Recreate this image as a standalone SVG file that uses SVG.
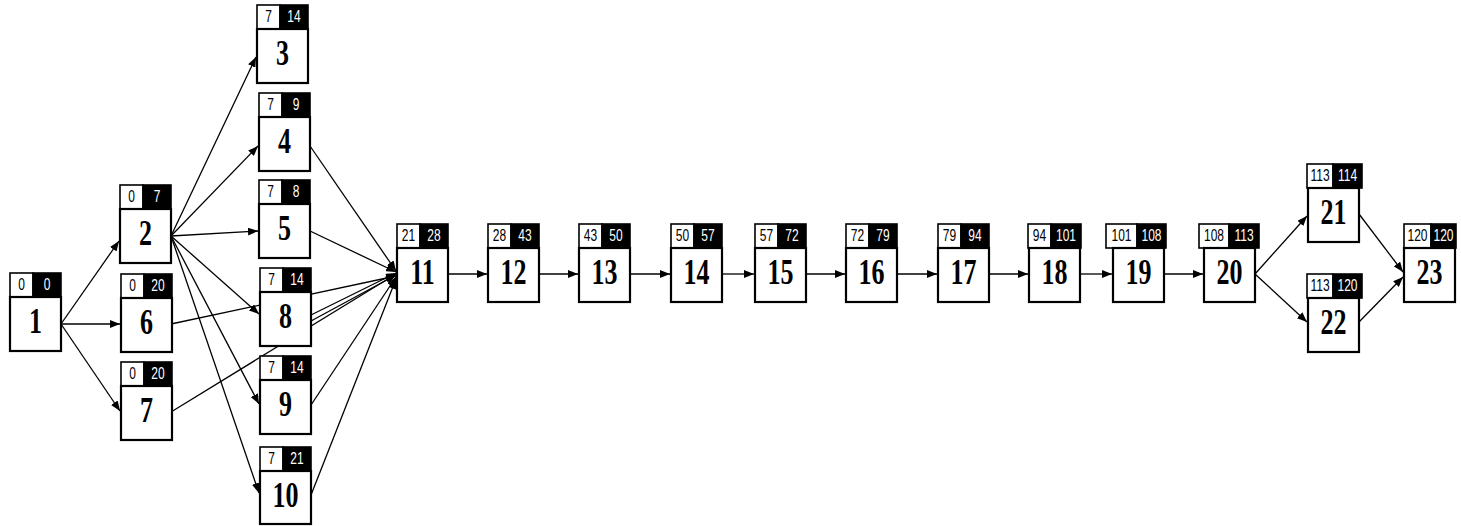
<svg xmlns="http://www.w3.org/2000/svg" width="1461" height="526" viewBox="0 0 1461 526">
<style>
.bg{fill:#fff}
.box{fill:#fff;stroke:#000;stroke-width:2.2}
.hw{fill:#fff;stroke:#000;stroke-width:1.6}
.hb{fill:#000;stroke:#000;stroke-width:1.6}
.hd{font-family:"Liberation Sans",Arial,sans-serif;font-size:12px;text-anchor:middle}
.hdw{fill:#fff}
.hdk{fill:#000}
.num{font-family:"Liberation Serif","Times New Roman",serif;font-weight:bold;font-size:26px;text-anchor:middle;fill:#000}
.c{fill:none;stroke:#000;stroke-width:1.3;marker-end:url(#ah)}
</style>
<defs>
<marker id="ah" markerWidth="10" markerHeight="8" refX="10" refY="4" orient="auto" markerUnits="userSpaceOnUse"><path d="M0,0 L10,4 L0,8 z" fill="#000"/></marker>
</defs>
<rect class="bg" x="0" y="0" width="1461" height="526"/>
<g id="connectors">
<path class="c" d="M61,324 L119,241"/>
<path class="c" d="M61,324 L120,324"/>
<path class="c" d="M61,324 L120,411"/>
<path class="c" d="M171,236 L256,57"/>
<path class="c" d="M171,236 L258,146"/>
<path class="c" d="M171,236 L258,231"/>
<path class="c" d="M171,236 L259,314"/>
<path class="c" d="M171,236 L259,404"/>
<path class="c" d="M171,236 L259,493"/>
<path class="c" d="M310,146 L396,271"/>
<path class="c" d="M310,231 L396,272"/>
<path class="c" d="M171,324 L396,276"/>
<path class="c" d="M171,412 L396,274"/>
<path class="c" d="M311,315 L396,273"/>
<path class="c" d="M311,321 L396,275"/>
<path class="c" d="M311,405 L396,277"/>
<path class="c" d="M311,495 L396,279"/>
<path class="c" d="M448,274 L487,274"/>
<path class="c" d="M539,274 L578,274"/>
<path class="c" d="M630,274 L670,274"/>
<path class="c" d="M722,274 L754,274"/>
<path class="c" d="M806,274 L845,274"/>
<path class="c" d="M897,274 L937,274"/>
<path class="c" d="M989,274 L1028,274"/>
<path class="c" d="M1080,274 L1112,274"/>
<path class="c" d="M1164,274 L1203,274"/>
<path class="c" d="M1255,274 L1307,216"/>
<path class="c" d="M1255,274 L1307,322"/>
<path class="c" d="M1359,214 L1403,272"/>
<path class="c" d="M1359,322 L1403,277"/>
</g>
<g id="n1"><rect class="hw" x="10" y="273" width="23" height="24"/><rect class="hb" x="33" y="273" width="28" height="24"/><text class="hd hdk" transform="translate(21.5,290) scale(1,1.4)">0</text><text class="hd hdw" transform="translate(47,290) scale(1,1.4)">0</text><rect class="box" x="10" y="297" width="51" height="54"/><text class="num" transform="translate(35.5,333) scale(1,1.4)">1</text></g>
<g id="n2"><rect class="hw" x="120" y="185" width="23" height="24"/><rect class="hb" x="143" y="185" width="28" height="24"/><text class="hd hdk" transform="translate(131.5,202) scale(1,1.4)">0</text><text class="hd hdw" transform="translate(157,202) scale(1,1.4)">7</text><rect class="box" x="120" y="209" width="51" height="54"/><text class="num" transform="translate(145.5,245) scale(1,1.4)">2</text></g>
<g id="n3"><rect class="hw" x="257" y="5" width="23" height="24"/><rect class="hb" x="280" y="5" width="28" height="24"/><text class="hd hdk" transform="translate(268.5,22) scale(1,1.4)">7</text><text class="hd hdw" transform="translate(294,22) scale(1,1.4)">14</text><rect class="box" x="257" y="29" width="51" height="54"/><text class="num" transform="translate(282.5,65) scale(1,1.4)">3</text></g>
<g id="n4"><rect class="hw" x="259" y="93" width="23" height="24"/><rect class="hb" x="282" y="93" width="28" height="24"/><text class="hd hdk" transform="translate(270.5,110) scale(1,1.4)">7</text><text class="hd hdw" transform="translate(296,110) scale(1,1.4)">9</text><rect class="box" x="259" y="117" width="51" height="54"/><text class="num" transform="translate(284.5,153) scale(1,1.4)">4</text></g>
<g id="n5"><rect class="hw" x="259" y="180" width="23" height="24"/><rect class="hb" x="282" y="180" width="28" height="24"/><text class="hd hdk" transform="translate(270.5,197) scale(1,1.4)">7</text><text class="hd hdw" transform="translate(296,197) scale(1,1.4)">8</text><rect class="box" x="259" y="204" width="51" height="54"/><text class="num" transform="translate(284.5,240) scale(1,1.4)">5</text></g>
<g id="n6"><rect class="hw" x="121" y="274" width="23" height="24"/><rect class="hb" x="144" y="274" width="28" height="24"/><text class="hd hdk" transform="translate(132.5,291) scale(1,1.4)">0</text><text class="hd hdw" transform="translate(158,291) scale(1,1.4)">20</text><rect class="box" x="121" y="298" width="51" height="54"/><text class="num" transform="translate(146.5,334) scale(1,1.4)">6</text></g>
<g id="n7"><rect class="hw" x="121" y="362" width="23" height="24"/><rect class="hb" x="144" y="362" width="28" height="24"/><text class="hd hdk" transform="translate(132.5,379) scale(1,1.4)">0</text><text class="hd hdw" transform="translate(158,379) scale(1,1.4)">20</text><rect class="box" x="121" y="386" width="51" height="54"/><text class="num" transform="translate(146.5,422) scale(1,1.4)">7</text></g>
<g id="n8"><rect class="hw" x="260" y="268" width="23" height="24"/><rect class="hb" x="283" y="268" width="28" height="24"/><text class="hd hdk" transform="translate(271.5,285) scale(1,1.4)">7</text><text class="hd hdw" transform="translate(297,285) scale(1,1.4)">14</text><rect class="box" x="260" y="292" width="51" height="54"/><text class="num" transform="translate(285.5,328) scale(1,1.4)">8</text></g>
<g id="n9"><rect class="hw" x="260" y="356" width="23" height="24"/><rect class="hb" x="283" y="356" width="28" height="24"/><text class="hd hdk" transform="translate(271.5,373) scale(1,1.4)">7</text><text class="hd hdw" transform="translate(297,373) scale(1,1.4)">14</text><rect class="box" x="260" y="380" width="51" height="54"/><text class="num" transform="translate(285.5,416) scale(1,1.4)">9</text></g>
<g id="n10"><rect class="hw" x="260" y="447" width="23" height="24"/><rect class="hb" x="283" y="447" width="28" height="24"/><text class="hd hdk" transform="translate(271.5,464) scale(1,1.4)">7</text><text class="hd hdw" transform="translate(297,464) scale(1,1.4)">21</text><rect class="box" x="260" y="471" width="51" height="53"/><text class="num" transform="translate(285.5,507) scale(1,1.4)">10</text></g>
<g id="n11"><rect class="hw" x="397" y="224" width="23" height="24"/><rect class="hb" x="420" y="224" width="28" height="24"/><text class="hd hdk" transform="translate(408.5,241) scale(1,1.4)">21</text><text class="hd hdw" transform="translate(434,241) scale(1,1.4)">28</text><rect class="box" x="397" y="248" width="51" height="54"/><text class="num" transform="translate(422.5,284) scale(1,1.4)">11</text></g>
<g id="n12"><rect class="hw" x="488" y="224" width="23" height="24"/><rect class="hb" x="511" y="224" width="28" height="24"/><text class="hd hdk" transform="translate(499.5,241) scale(1,1.4)">28</text><text class="hd hdw" transform="translate(525,241) scale(1,1.4)">43</text><rect class="box" x="488" y="248" width="51" height="54"/><text class="num" transform="translate(513.5,284) scale(1,1.4)">12</text></g>
<g id="n13"><rect class="hw" x="579" y="224" width="23" height="24"/><rect class="hb" x="602" y="224" width="28" height="24"/><text class="hd hdk" transform="translate(590.5,241) scale(1,1.4)">43</text><text class="hd hdw" transform="translate(616,241) scale(1,1.4)">50</text><rect class="box" x="579" y="248" width="51" height="54"/><text class="num" transform="translate(604.5,284) scale(1,1.4)">13</text></g>
<g id="n14"><rect class="hw" x="671" y="224" width="23" height="24"/><rect class="hb" x="694" y="224" width="28" height="24"/><text class="hd hdk" transform="translate(682.5,241) scale(1,1.4)">50</text><text class="hd hdw" transform="translate(708,241) scale(1,1.4)">57</text><rect class="box" x="671" y="248" width="51" height="54"/><text class="num" transform="translate(696.5,284) scale(1,1.4)">14</text></g>
<g id="n15"><rect class="hw" x="755" y="224" width="23" height="24"/><rect class="hb" x="778" y="224" width="28" height="24"/><text class="hd hdk" transform="translate(766.5,241) scale(1,1.4)">57</text><text class="hd hdw" transform="translate(792,241) scale(1,1.4)">72</text><rect class="box" x="755" y="248" width="51" height="54"/><text class="num" transform="translate(780.5,284) scale(1,1.4)">15</text></g>
<g id="n16"><rect class="hw" x="846" y="224" width="23" height="24"/><rect class="hb" x="869" y="224" width="28" height="24"/><text class="hd hdk" transform="translate(857.5,241) scale(1,1.4)">72</text><text class="hd hdw" transform="translate(883,241) scale(1,1.4)">79</text><rect class="box" x="846" y="248" width="51" height="54"/><text class="num" transform="translate(871.5,284) scale(1,1.4)">16</text></g>
<g id="n17"><rect class="hw" x="938" y="224" width="23" height="24"/><rect class="hb" x="961" y="224" width="28" height="24"/><text class="hd hdk" transform="translate(949.5,241) scale(1,1.4)">79</text><text class="hd hdw" transform="translate(975,241) scale(1,1.4)">94</text><rect class="box" x="938" y="248" width="51" height="54"/><text class="num" transform="translate(963.5,284) scale(1,1.4)">17</text></g>
<g id="n18"><rect class="hw" x="1028" y="224" width="23" height="24"/><rect class="hb" x="1051" y="224" width="30" height="24"/><text class="hd hdk" transform="translate(1039.5,241) scale(1,1.4)">94</text><text class="hd hdw" transform="translate(1066,241) scale(1,1.4)">101</text><rect class="box" x="1029" y="248" width="51" height="54"/><text class="num" transform="translate(1054.5,284) scale(1,1.4)">18</text></g>
<g id="n19"><rect class="hw" x="1106" y="224" width="31" height="24"/><rect class="hb" x="1137" y="224" width="29" height="24"/><text class="hd hdk" transform="translate(1121.5,241) scale(1,1.4)">101</text><text class="hd hdw" transform="translate(1151.5,241) scale(1,1.4)">108</text><rect class="box" x="1113" y="248" width="51" height="54"/><text class="num" transform="translate(1138.5,284) scale(1,1.4)">19</text></g>
<g id="n20"><rect class="hw" x="1199" y="224" width="30" height="24"/><rect class="hb" x="1229" y="224" width="30" height="24"/><text class="hd hdk" transform="translate(1214,241) scale(1,1.4)">108</text><text class="hd hdw" transform="translate(1244,241) scale(1,1.4)">113</text><rect class="box" x="1204" y="248" width="51" height="54"/><text class="num" transform="translate(1229.5,284) scale(1,1.4)">20</text></g>
<g id="n21"><rect class="hw" x="1307" y="164" width="26" height="24"/><rect class="hb" x="1333" y="164" width="29" height="24"/><text class="hd hdk" transform="translate(1320,181) scale(1,1.4)">113</text><text class="hd hdw" transform="translate(1347.5,181) scale(1,1.4)">114</text><rect class="box" x="1308" y="188" width="51" height="54"/><text class="num" transform="translate(1333.5,224) scale(1,1.4)">21</text></g>
<g id="n22"><rect class="hw" x="1307" y="274" width="26" height="24"/><rect class="hb" x="1333" y="274" width="29" height="24"/><text class="hd hdk" transform="translate(1320,291) scale(1,1.4)">113</text><text class="hd hdw" transform="translate(1347.5,291) scale(1,1.4)">120</text><rect class="box" x="1308" y="298" width="51" height="54"/><text class="num" transform="translate(1333.5,334) scale(1,1.4)">22</text></g>
<g id="n23"><rect class="hw" x="1404" y="224" width="27" height="24"/><rect class="hb" x="1431" y="224" width="25" height="24"/><text class="hd hdk" transform="translate(1417.5,241) scale(1,1.4)">120</text><text class="hd hdw" transform="translate(1443.5,241) scale(1,1.4)">120</text><rect class="box" x="1404" y="248" width="51" height="54"/><text class="num" transform="translate(1429.5,284) scale(1,1.4)">23</text></g>
</svg>
